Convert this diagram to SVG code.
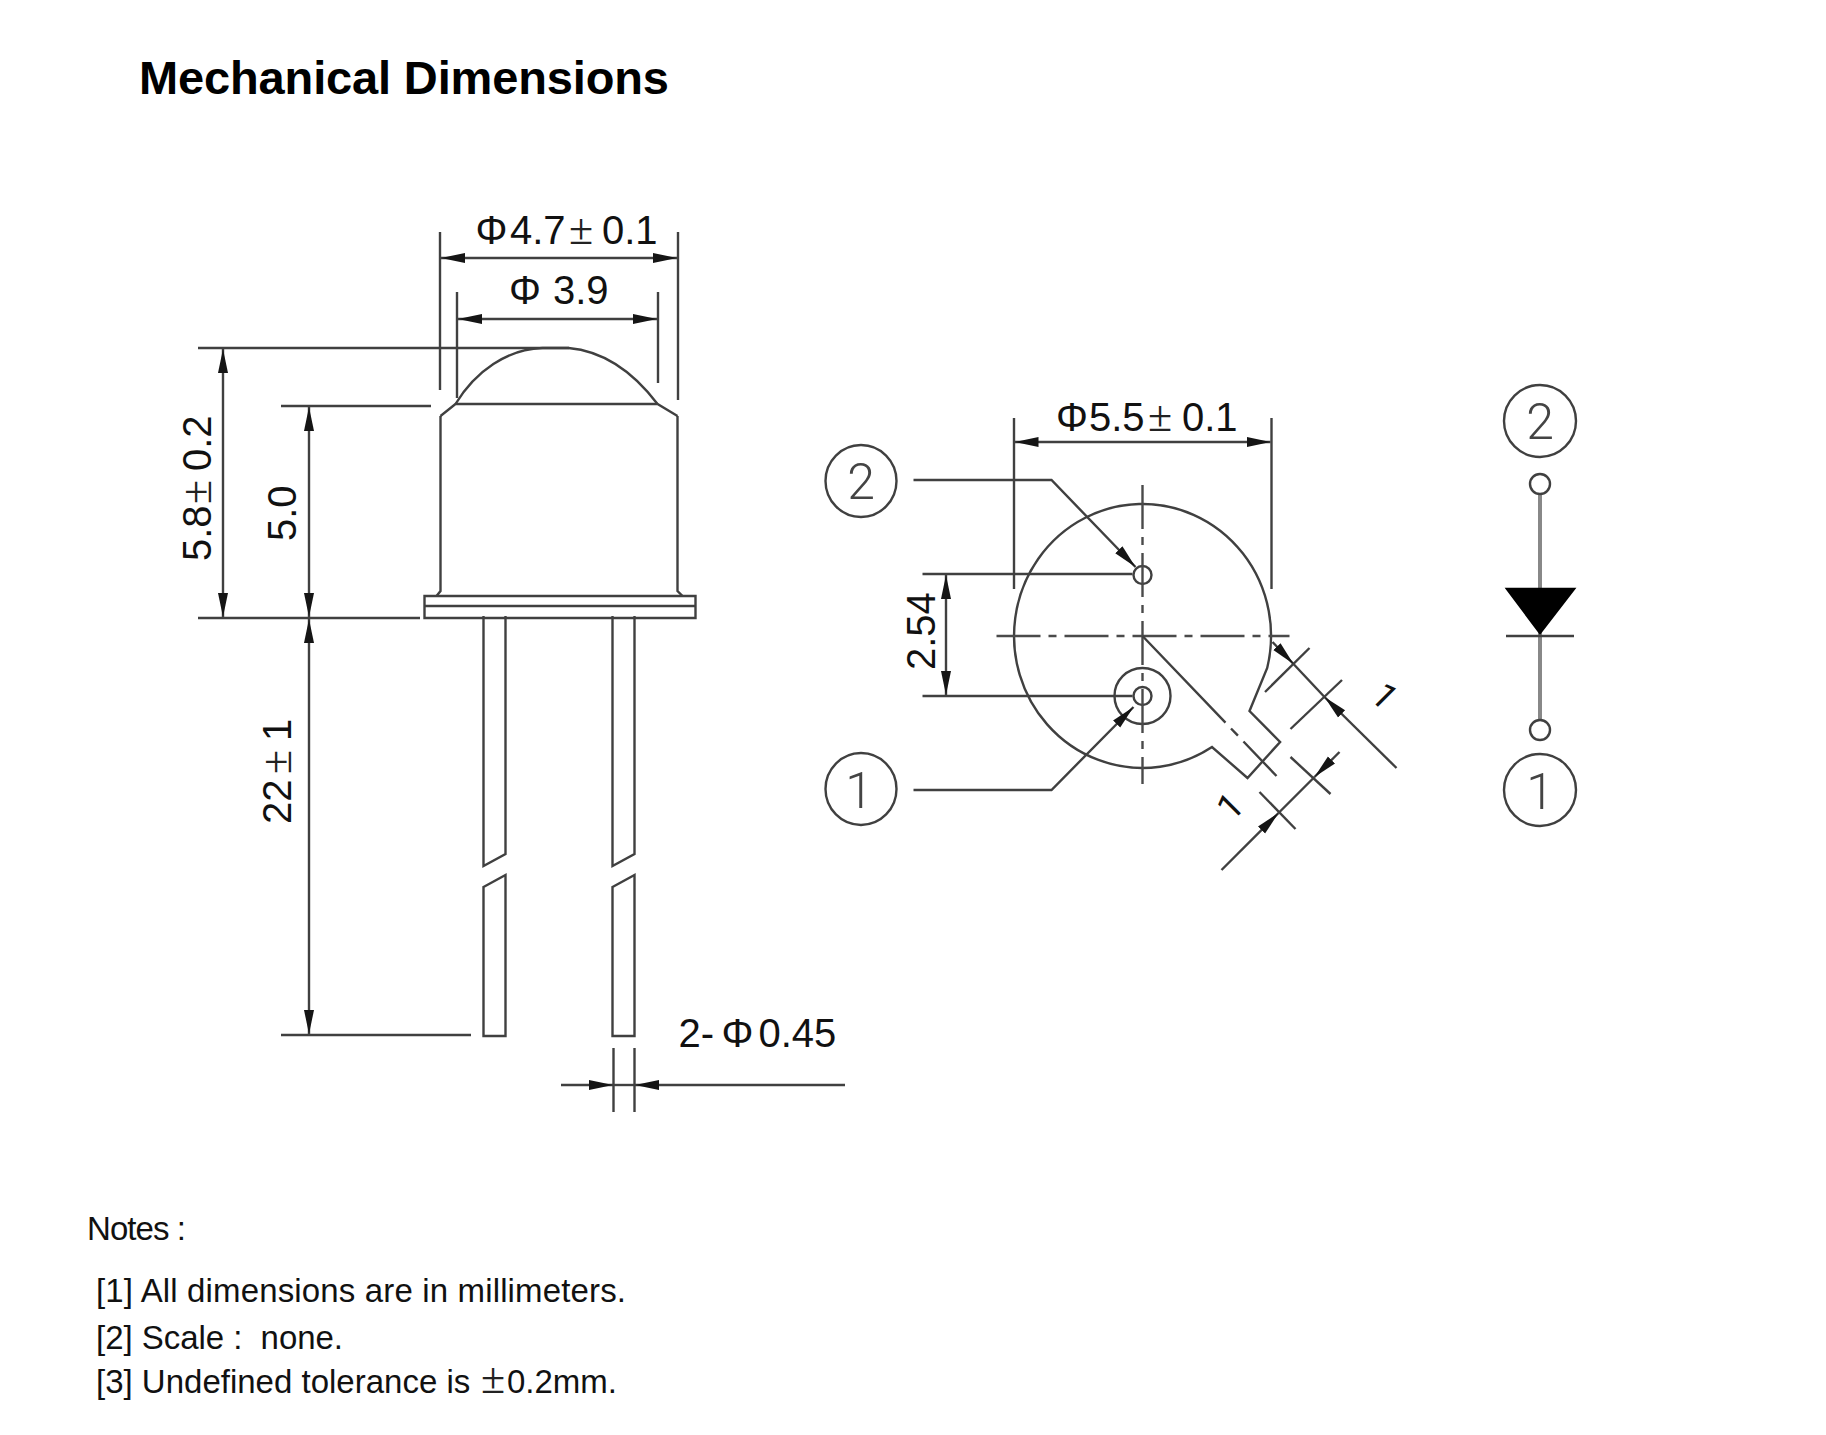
<svg xmlns="http://www.w3.org/2000/svg" width="1826" height="1435" viewBox="0 0 1826 1435">
<style>
text{font-family:"Liberation Sans",Arial,sans-serif;fill:#111}
.d{font-size:40px}
.n{font-size:33px}
.t{font-size:47px;font-weight:bold;fill:#000}
.p{font-size:50px;font-family:Roboto,"Liberation Sans",sans-serif;font-weight:300;fill:#444;text-anchor:middle}
.o{font-size:36px;font-family:Roboto,"Liberation Sans",sans-serif;fill:#111}
.s{font-family:"Liberation Serif",serif;font-size:44px;fill:#222}
line,polyline,path,circle,ellipse{stroke:#404040;stroke-width:2.4;fill:none}
.c{stroke:#4a4a4a;stroke-dasharray:44 8 8 8}
.g{stroke:#888;stroke-width:4}
.a{marker-end:url(#ah)}
.b{marker-start:url(#ahs);marker-end:url(#ah)}
</style>
<defs>
<marker id="ah" markerUnits="userSpaceOnUse" markerWidth="26" markerHeight="14" refX="24" refY="7" orient="auto"><path d="M0 2L24 7L0 12Z" style="fill:#151515;stroke:none"/></marker>
<marker id="ahs" markerUnits="userSpaceOnUse" markerWidth="26" markerHeight="14" refX="0" refY="7" orient="auto"><path d="M24 2L0 7L24 12Z" style="fill:#151515;stroke:none"/></marker>
</defs>
<rect width="1826" height="1435" fill="#fff"/>
<text class="t" x="139" y="94" textLength="530">Mechanical Dimensions</text>

<g id="side-view" transform="translate(-2.500 -1)">
<path d="M458 405C478 372 510 350 545 349L571 349C605 352 635 372 660 405"/>
<path d="M443 417L458 405L660 405L680 417"/>
<path d="M443 417V592L439 597M680 417V592L685 597"/>
<path d="M427 597H698V619H427Z"/>
<line x1="427" y1="607" x2="698" y2="607"/>
</g>
<g id="leads" transform="translate(-3.500 -4)">
<path d="M487 620V870L509 858V620M616 620V870L638 858V620"/>
<path d="M487 891L509 879V1040H487ZM616 891L638 879V1040H616Z"/>
</g>

<g id="dimensions-side">
<line x1="440" y1="232" x2="440" y2="390"/>
<line x1="678" y1="232" x2="678" y2="400"/>
<line class="b" x1="441" y1="258" x2="677" y2="258"/>
<line x1="457" y1="292" x2="457" y2="398"/>
<line x1="658" y1="292" x2="658" y2="383"/>
<line class="b" x1="458" y1="319" x2="657" y2="319"/>
<line x1="198" y1="348" x2="569" y2="348"/>
<line x1="281" y1="406" x2="431" y2="406"/>
<line x1="198" y1="618" x2="420" y2="618"/>
<line x1="281" y1="1035" x2="471" y2="1035"/>
<line class="b" x1="223" y1="349" x2="223" y2="617"/>
<line class="b" x1="309" y1="407" x2="309" y2="617"/>
<line class="b" x1="309" y1="619" x2="309" y2="1034"/>
<line x1="613.500" y1="1048" x2="613.500" y2="1112"/>
<line x1="634.500" y1="1048" x2="634.500" y2="1112"/>
<line class="a" x1="561" y1="1085" x2="613" y2="1085"/>
<line x1="613.500" y1="1085" x2="634.500" y2="1085"/>
<line class="a" x1="845" y1="1085" x2="635" y2="1085"/>
<text class="d" y="244"><tspan x="475.500">Φ</tspan><tspan x="510">4.7</tspan><tspan class="s" x="569">±</tspan><tspan x="602">0.1</tspan></text>
<text class="d" y="304"><tspan x="509">Φ</tspan><tspan x="553">3.9</tspan></text>
<text class="d" transform="translate(210.500 561) rotate(-90)"><tspan x="0">5.8</tspan><tspan class="s" x="57">±</tspan><tspan x="90">0.2</tspan></text>
<text class="d" transform="translate(296 541) rotate(-90)">5.0</text>
<text class="d" transform="translate(290.500 824) rotate(-90)"><tspan x="0">22</tspan><tspan class="s" x="50">±</tspan><tspan x="83">1</tspan></text>
<text class="d" y="1047"><tspan x="678.500">2-</tspan><tspan x="721.500">Φ</tspan><tspan x="758.500">0.45</tspan></text>
</g>

<g id="bottom-view" transform="translate(-5.500 -3)">
<path d="M1272.700 671A128.500 132 0 1 0 1217.500 750L1253 781L1285.600 745L1255 714Z"/>
<circle cx="1148" cy="578" r="9"/>
<circle cx="1148" cy="699" r="9"/>
<circle cx="1148" cy="699" r="28"/>
<line class="c" x1="1148" y1="488" x2="1148" y2="787"/>
<line class="c" x1="1002" y1="639" x2="1295" y2="639"/>
<line style="stroke-dasharray:120 8 10 8 60" x1="1148" y1="639" x2="1282" y2="779"/>
</g>

<g id="dimensions-bottom" transform="translate(-5.500 -3)">
<line x1="1019.500" y1="421" x2="1019.500" y2="592"/>
<line x1="1277" y1="421" x2="1277" y2="592"/>
<line class="b" x1="1020" y1="445" x2="1276" y2="445"/>
<line x1="928" y1="577" x2="1138" y2="577"/>
<line x1="928" y1="699" x2="1138" y2="699"/>
<line class="b" x1="951.500" y1="578" x2="951.500" y2="698"/>
<line x1="1270.500" y1="695" x2="1315" y2="651"/>
<line x1="1296" y1="732" x2="1347.500" y2="683"/>
<line class="a" x1="1278" y1="645" x2="1299" y2="667"/>
<line x1="1299" y1="667" x2="1330" y2="700"/>
<line class="a" x1="1402" y1="771" x2="1330" y2="700"/>
<line x1="1265" y1="795" x2="1301" y2="832"/>
<line x1="1296" y1="760" x2="1336" y2="797"/>
<line class="a" x1="1227" y1="873" x2="1284" y2="816"/>
<line x1="1284" y1="816" x2="1320" y2="780"/>
<line class="a" x1="1345" y1="755" x2="1320" y2="780"/>
</g>
<g id="dimension-labels-bottom">
<text class="d" y="431"><tspan x="1056">Φ</tspan><tspan x="1089">5.5</tspan><tspan class="s" x="1148">±</tspan><tspan x="1182">0.1</tspan></text>
<text class="d" transform="translate(934.500 670) rotate(-90)">2.54</text>
<text class="o" text-anchor="middle" transform="translate(1376 705) rotate(45)">1</text>
<text class="o" text-anchor="middle" transform="translate(1239 815) rotate(-45)">1</text>
</g>

<g id="connectors" transform="translate(-5.500 -3)">
<polyline class="a" points="919,483 1057,483 1141,570"/>
<polyline class="a" points="919,793 1057,793 1139,710"/>
</g>

<g id="label-2-left"><ellipse cx="861" cy="481" rx="35.500" ry="36"/><text class="p" x="861" y="499">2</text></g>
<g id="label-1-left"><ellipse cx="861" cy="789" rx="35.500" ry="36"/><text class="p" x="859" y="808">1</text></g>

<g id="diode">
<line class="g" x1="1540" y1="492" x2="1540" y2="721"/>
<path d="M1507 589H1574L1540 633Z" style="fill:#000;stroke:#000"/>
<line x1="1506" y1="636" x2="1574" y2="636"/>
<circle cx="1540" cy="484" r="10" style="fill:#fff"/>
<circle cx="1540" cy="730" r="10" style="fill:#fff"/>
</g>
<g id="label-2-right"><ellipse cx="1540" cy="421" rx="36" ry="36"/><text class="p" x="1540" y="439">2</text></g>
<g id="label-1-right"><ellipse cx="1540" cy="790" rx="36" ry="36"/><text class="p" x="1540" y="809">1</text></g>

<g id="notes">
<text class="n" x="87" y="1240" textLength="99">Notes :</text>
<text class="n" x="96" y="1302" textLength="530">[1] All dimensions are in millimeters.</text>
<text class="n" x="96" y="1349" textLength="247" xml:space="preserve">[2] Scale :  none.</text>
<text class="n" x="96" y="1393"><tspan>[3] Undefined tolerance is </tspan><tspan class="s" x="481">±</tspan><tspan x="507">0.2mm.</tspan></text>
</g>
</svg>
